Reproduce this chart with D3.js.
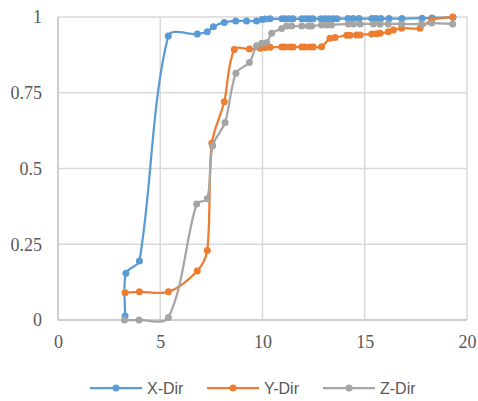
<!DOCTYPE html>
<html><head><meta charset="utf-8">
<script src="https://cdn.jsdelivr.net/npm/d3@7"></script>
<style>
body{margin:0;background:#fff}svg{display:block}
.tick-serif{font-family:"Liberation Serif","Times New Roman",Times,serif !important;font-size:18px !important}
.leg{font-family:"Liberation Sans",Arial,sans-serif;font-size:16px}
</style>
</head><body>
<script>
const seriesNames = ["X-Dir", "Y-Dir", "Z-Dir"];
const seriesColors = ["#5b9bd5", "#ed7d31", "#a5a5a5"];
const xTicks = [0, 5, 10, 15, 20];
const yTicks = [0, 0.25, 0.5, 0.75, 1];
const yTickLabels = ["0", "0.25", "0.5", "0.75", "1"];

const xDirX = [3.28, 3.32, 3.98, 5.39, 6.81, 7.3, 7.6, 8.13, 8.69, 9.22, 9.71, 9.98, 10.12, 10.37, 10.95, 11.1, 11.3, 11.49, 11.93, 12.13, 12.32, 12.47, 12.86, 13.06, 13.25, 13.45, 13.64, 14.18, 14.43, 14.72, 15.35, 15.55, 15.79, 16.19, 16.82, 17.8, 18.29, 19.32];
const xDirY = [0.013, 0.154, 0.195, 0.937, 0.944, 0.951, 0.968, 0.982, 0.987, 0.987, 0.987, 0.992, 0.993, 0.994, 0.994, 0.994, 0.994, 0.994, 0.994, 0.994, 0.994, 0.994, 0.994, 0.994, 0.994, 0.994, 0.994, 0.995, 0.995, 0.995, 0.995, 0.995, 0.995, 0.995, 0.995, 0.996, 0.997, 0.999];

const yDirX = [3.28, 3.98, 5.4, 6.81, 7.3, 7.52, 8.13, 8.62, 9.36, 9.88, 10.12, 10.37, 10.94, 11.1, 11.34, 11.5, 11.92, 12.08, 12.32, 12.48, 12.89, 13.3, 13.55, 14.12, 14.28, 14.6, 14.77, 15.34, 15.58, 15.75, 16.15, 16.4, 16.8, 17.7, 18.27, 19.3];
const yDirY = [0.09, 0.093, 0.093, 0.162, 0.229, 0.583, 0.72, 0.893, 0.894, 0.897, 0.899, 0.9, 0.901, 0.901, 0.901, 0.901, 0.901, 0.901, 0.901, 0.901, 0.902, 0.93, 0.932, 0.94, 0.94, 0.941, 0.941, 0.944, 0.945, 0.946, 0.951, 0.957, 0.963, 0.963, 0.99, 1.0];

const zDirX = [3.25, 3.96, 5.4, 6.78, 7.3, 7.56, 8.17, 8.7, 9.36, 9.71, 9.96, 10.2, 10.45, 10.94, 11.18, 11.43, 11.92, 12.24, 12.4, 12.89, 13.14, 13.38, 14.2, 14.44, 14.77, 15.42, 15.75, 16.15, 16.8, 17.78, 18.27, 19.3];
const zDirY = [0, 0, 0.008, 0.383, 0.4, 0.575, 0.652, 0.814, 0.85, 0.905, 0.913, 0.915, 0.946, 0.962, 0.97, 0.97, 0.97, 0.97, 0.97, 0.974, 0.974, 0.974, 0.977, 0.977, 0.977, 0.977, 0.977, 0.977, 0.977, 0.977, 0.98, 0.977];

const allX = [xDirX, yDirX, zDirX];
const allY = [xDirY, yDirY, zDirY];

const W = 478, H = 401;
const m = {left: 58, right: 11, top: 17, bottom: 81};
const svg = d3.select("body").append("svg").attr("width", W).attr("height", H);
const x = d3.scaleLinear().domain([0, 20]).range([m.left, W - m.right]);
const y = d3.scaleLinear().domain([0, 1]).range([H - m.bottom, m.top]);

const grid = svg.append("g");
grid.selectAll("line.h").data(yTicks).join("line")
  .attr("x1", x(0)).attr("x2", x(20))
  .attr("y1", d => y(d)).attr("y2", d => y(d))
  .attr("stroke", "#d9d9d9").attr("stroke-width", 1.5);
grid.selectAll("line.v").data(xTicks).join("line")
  .attr("y1", y(0)).attr("y2", y(1))
  .attr("x1", d => x(d)).attr("x2", d => x(d))
  .attr("stroke", "#d9d9d9").attr("stroke-width", 1.5);
svg.append("line").attr("x1", x(0)).attr("x2", x(0)).attr("y1", y(0)).attr("y2", y(1))
  .attr("stroke", "#c8c8c8").attr("stroke-width", 1.5);
svg.append("line").attr("x1", x(0)).attr("x2", x(20)).attr("y1", y(0)).attr("y2", y(0))
  .attr("stroke", "#c8c8c8").attr("stroke-width", 1.5);

const yAxis = d3.axisLeft(y).tickValues(yTicks).tickFormat((d, i) => yTickLabels[i]).tickSize(0).tickPadding(16);
const gy = svg.append("g").attr("transform", `translate(${m.left},0)`).call(yAxis);
gy.select(".domain").remove();
gy.attr("font-family", null).attr("font-size", null);
gy.selectAll("text").attr("class", "tick-serif").attr("fill", "#595959");

const xAxis = d3.axisBottom(x).tickValues(xTicks).tickFormat(d3.format("d")).tickSize(0).tickPadding(15);
const gx = svg.append("g").attr("transform", `translate(0,${y(0)})`).call(xAxis);
gx.select(".domain").remove();
gx.attr("font-family", null).attr("font-size", null);
gx.selectAll("text").attr("class", "tick-serif").attr("fill", "#595959");

// Excel-like smoothed line: tangent along neighbours, arm length proportional to segment length
function smoothPath(pts, t) {
  const p = d3.path();
  const n = pts.length;
  p.moveTo(pts[0][0], pts[0][1]);
  const tan = pts.map((q, i) => {
    const a = pts[Math.max(0, i - 1)], b = pts[Math.min(n - 1, i + 1)];
    const dx = b[0] - a[0], dy = b[1] - a[1];
    const L = Math.hypot(dx, dy) || 1;
    return [dx / L, dy / L];
  });
  for (let i = 0; i < n - 1; i++) {
    const a = pts[i], b = pts[i + 1];
    const len = Math.hypot(b[0] - a[0], b[1] - a[1]);
    const c1 = [a[0] + tan[i][0] * len * t, a[1] + tan[i][1] * len * t];
    const c2 = [b[0] - tan[i + 1][0] * len * t, b[1] - tan[i + 1][1] * len * t];
    p.bezierCurveTo(c1[0], c1[1], c2[0], c2[1], b[0], b[1]);
  }
  return p.toString();
}

seriesNames.forEach((name, i) => {
  const pts = allX[i].map((v, j) => [x(v), y(allY[i][j])]);
  const g = svg.append("g");
  g.append("path").attr("d", smoothPath(pts, 0.3)).attr("fill", "none")
    .attr("stroke", seriesColors[i]).attr("stroke-width", 2.25).attr("stroke-linejoin", "round");
  g.selectAll("circle").data(allX[i].map((v, j) => [v, allY[i][j]])).join("circle")
    .attr("cx", d => x(d[0])).attr("cy", d => y(d[1])).attr("r", 3.5)
    .attr("fill", seriesColors[i]);
});

const legendX = [90, 207, 323];
const lg = svg.append("g");
seriesNames.forEach((name, i) => {
  const lx = legendX[i], ly = 388;
  lg.append("line").attr("x1", lx).attr("x2", lx + 52).attr("y1", ly).attr("y2", ly)
    .attr("stroke", seriesColors[i]).attr("stroke-width", 2.25);
  lg.append("circle").attr("cx", lx + 26).attr("cy", ly).attr("r", 3.5).attr("fill", seriesColors[i]);
  lg.append("text").attr("class", "leg").attr("x", lx + 57).attr("y", ly).attr("dy", "0.36em")
    .attr("fill", "#595959").text(name);
});
</script>
</body></html>
